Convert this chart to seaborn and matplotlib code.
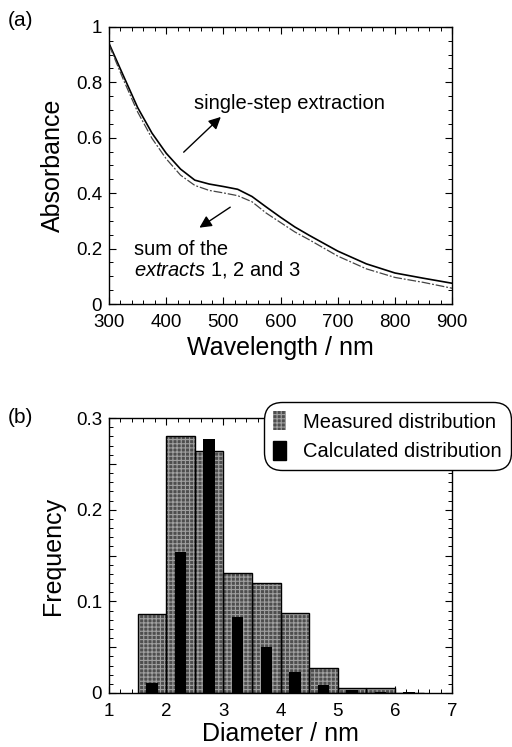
import numpy as np
import pandas as pd
import matplotlib
matplotlib.use("Agg")
import matplotlib.pyplot as plt
import seaborn as sns
from matplotlib.patches import Patch
from matplotlib.ticker import MultipleLocator, FuncFormatter

# ======================
# Data
# ======================

wavelength = [300, 325, 350, 375, 400, 425, 450, 475, 500, 525, 550, 575,
              600, 625, 650, 700, 750, 800, 850, 900]
abs_single = [0.94, 0.824, 0.709, 0.617, 0.544, 0.487, 0.447, 0.433, 0.424, 0.414,
              0.388, 0.35, 0.313, 0.278, 0.248, 0.191, 0.145, 0.112, 0.093, 0.075]
abs_sum = [0.935, 0.81, 0.693, 0.598, 0.524, 0.465, 0.428, 0.41, 0.401, 0.391,
           0.369, 0.328, 0.294, 0.26, 0.232, 0.173, 0.127, 0.096, 0.078, 0.057]

diam_centers = [1.75, 2.25, 2.75, 3.25, 3.75, 4.25, 4.75, 5.25, 5.75, 6.25]
freq_measured = [0.086, 0.28, 0.264, 0.131, 0.120, 0.087, 0.027, 0.005, 0.005, 0.0]
freq_calculated = [0.011, 0.154, 0.277, 0.083, 0.050, 0.023, 0.009, 0.003, 0.001, 0.001]
diam_bins = [1.5, 2.0, 2.5, 3.0, 3.5, 4.0, 4.5, 5.0, 5.5, 6.0, 6.5]

df_abs = pd.DataFrame({"wl": wavelength, "single": abs_single, "sum": abs_sum})
df_dist = pd.DataFrame({"d": diam_centers, "meas": freq_measured, "calc": freq_calculated})

# ======================
# Style
# ======================

sns.set_style("ticks")
plt.rcParams["font.family"] = ["Liberation Sans", "DejaVu Sans"]
plt.rcParams["mathtext.fontset"] = "custom"
plt.rcParams["mathtext.rm"] = "Liberation Sans"
plt.rcParams["mathtext.it"] = "Liberation Sans:italic"
plt.rcParams["hatch.linewidth"] = 0.8
for k in ["text.color", "axes.labelcolor", "xtick.color", "ytick.color", "axes.edgecolor"]:
    plt.rcParams[k] = "black"

MEAS_FACE = "#4e4e4e"
MEAS_HATCH = "#a0a0a0"

fig = plt.figure(figsize=(5.12, 7.47), dpi=100)
ax1 = fig.add_axes([0.213, 0.593, 0.67, 0.371])
ax2 = fig.add_axes([0.213, 0.0723, 0.67, 0.368])

def style_axes(ax):
    for s in ax.spines.values():
        s.set_visible(True)
        s.set_linewidth(1.0)
        s.set_color("black")
    ax.tick_params(which="both", direction="in", top=True, right=True,
                   labelsize=13.5, pad=5, colors="black")
    ax.tick_params(axis="x", pad=7)
    ax.tick_params(which="major", length=5, width=0.8)
    ax.tick_params(which="minor", length=3, width=0.7)

def num_fmt(step):
    def f(v, p):
        if abs(v) < 1e-9:
            return "0"
        if abs(v - round(v)) < 1e-9:
            return str(int(round(v)))
        if abs(v / step - round(v / step)) < 1e-6:
            return f"{v:.1f}"
        return ""
    return FuncFormatter(f)

# ======================
# (a) Absorbance spectra
# ======================

sns.lineplot(data=df_abs, x="wl", y="single", ax=ax1, color="black", lw=1.2)
sns.lineplot(data=df_abs, x="wl", y="sum", ax=ax1, color="#444444", lw=0.9,
             linestyle=(0, (7, 1.5, 1.5, 1.5)))
ax1.set_xlim(300, 900)
ax1.set_ylim(0, 1)
ax1.xaxis.set_major_locator(MultipleLocator(100))
ax1.xaxis.set_minor_locator(MultipleLocator(20))
ax1.yaxis.set_major_locator(MultipleLocator(0.2))
ax1.yaxis.set_minor_locator(MultipleLocator(0.05))
ax1.yaxis.set_major_formatter(num_fmt(0.2))
style_axes(ax1)
ax1.set_xlabel("Wavelength / nm", fontsize=18, labelpad=4)
ax1.set_ylabel("Absorbance", fontsize=18, labelpad=8)

ax1.annotate("", xy=(499, 0.682), xytext=(427, 0.541),
             arrowprops=dict(arrowstyle="-|>", color="black", lw=1.0,
                             mutation_scale=18))
ax1.text(449, 0.725, "single-step extraction", fontsize=14.5, va="center")
ax1.annotate("", xy=(454, 0.27), xytext=(516, 0.355),
             arrowprops=dict(arrowstyle="-|>", color="black", lw=1.0,
                             mutation_scale=18))
ax1.text(344, 0.197, "sum of the", fontsize=14.5, va="center")
ax1.text(344, 0.123, r"$\mathit{extracts\ 1}$, $\mathit{2}$ and $\mathit{3}$",
         fontsize=14.5, va="center")
fig.text(0.016, 0.972, "(a)", fontsize=15, va="center")

# ======================
# (b) Size distributions
# ======================

sns.histplot(data=df_dist, x="d", weights="meas", bins=diam_bins, ax=ax2,
             stat="count", color=MEAS_FACE, edgecolor=MEAS_HATCH, hatch="++++",
             linewidth=0, alpha=1)
sns.histplot(data=df_dist, x="d", weights="meas", bins=diam_bins, ax=ax2,
             stat="count", fill=False, color="black", edgecolor="black", linewidth=1.0)
sns.histplot(data=df_dist, x="d", weights="calc", bins=diam_bins, ax=ax2,
             stat="count", shrink=0.4, color="black", linewidth=0, alpha=1)
ax2.set_xlim(1, 7)
ax2.set_ylim(0, 0.3)
ax2.xaxis.set_major_locator(MultipleLocator(1))
ax2.xaxis.set_minor_locator(MultipleLocator(0.2))
ax2.yaxis.set_major_locator(MultipleLocator(0.05))
ax2.yaxis.set_minor_locator(MultipleLocator(0.01))
ax2.yaxis.set_major_formatter(num_fmt(0.1))
style_axes(ax2)
ax2.set_xlabel("Diameter / nm", fontsize=18, labelpad=2)
ax2.set_ylabel("Frequency", fontsize=18, labelpad=8)
fig.text(0.016, 0.441, "(b)", fontsize=15, va="center")

handles = [Patch(facecolor=MEAS_FACE, edgecolor=MEAS_HATCH, hatch="++++", lw=0),
           Patch(facecolor="black", edgecolor="black")]
leg = fig.legend(handles, ["Measured distribution", "Calculated distribution"],
                 loc="upper right", bbox_to_anchor=(0.998, 0.4618),
                 fontsize=14.5, frameon=True, fancybox=True,
                 handlelength=0.65, handleheight=1.1, handletextpad=0.85,
                 borderaxespad=0, borderpad=0.45, labelspacing=0.45)
leg.get_frame().set_edgecolor("black")
leg.get_frame().set_linewidth(1.0)
leg.get_frame().set_alpha(1)
leg.get_frame().set_boxstyle("round", pad=0.0, rounding_size=0.9)

fig.savefig("out.png", dpi=100)
